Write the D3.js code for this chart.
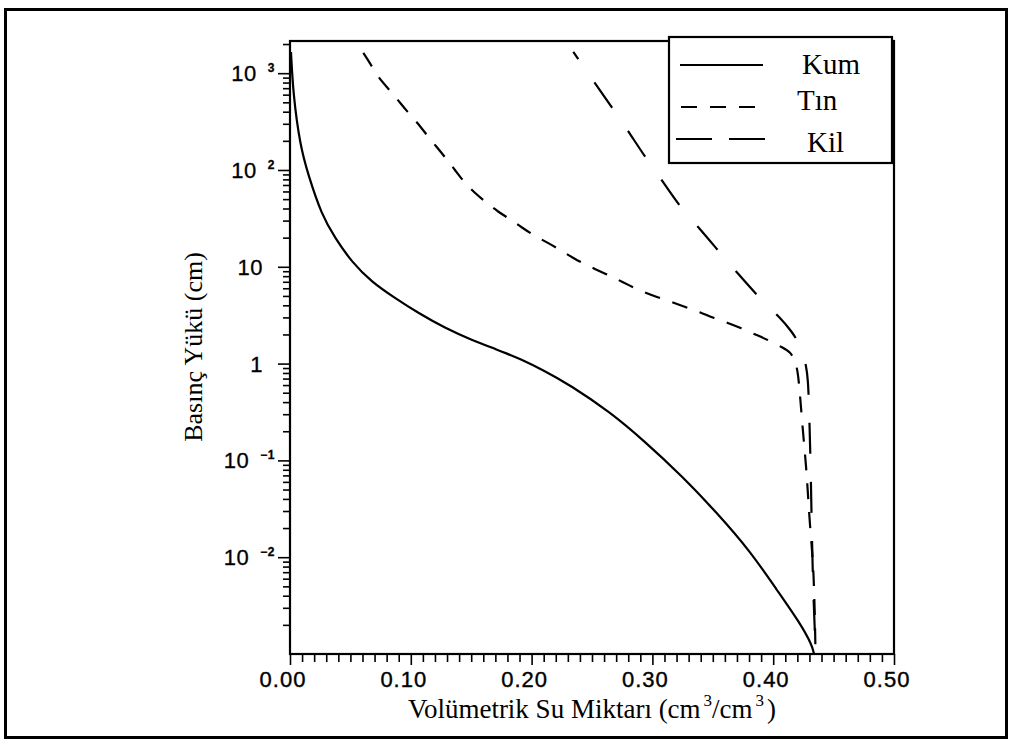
<!DOCTYPE html>
<html><head><meta charset="utf-8">
<script src="https://cdn.jsdelivr.net/npm/d3@7"></script>
<style>body{margin:0;background:#fff} svg{display:block}</style>
</head><body>
<svg id="c" width="1012" height="744"></svg>
<script>
// ---- data ----
const xTicks = [0, 0.1, 0.2, 0.3, 0.4, 0.5];
const xTickLabels = ["0.00", "0.10", "0.20", "0.30", "0.40", "0.50"];
const yTicks = [1000, 100, 10, 1, 0.1, 0.01];
const yTickBase = ["10", "10", "10", "1", "10", "10"];
const yTickExp = ["3", "2", "", "", "−1", "−2"];
const seriesNames = ["Kum", "Tın", "Kil"];
const kumTheta = [0.0008, 0.0027, 0.0083, 0.0151, 0.0262, 0.0373, 0.0511, 0.0676, 0.0869, 0.1062, 0.1283, 0.1504, 0.1724, 0.182, 0.189, 0.2094, 0.2318, 0.2649, 0.2922, 0.3253, 0.3535, 0.3808, 0.4031, 0.4222, 0.4321, 0.4338];
const kumHead  = [1656, 596, 181, 88.8, 34.3, 19.8, 11.2, 6.97, 4.76, 3.33, 2.33, 1.75, 1.38, 1.23, 1.14, 0.86, 0.60, 0.316, 0.163, 0.0675, 0.0286, 0.0116, 0.00458, 0.00209, 0.00124, 0.001];
const tinTheta = [0.0607, 0.0662, 0.0728, 0.0809, 0.0894, 0.0966, 0.1057, 0.1132, 0.1214, 0.1289, 0.1366, 0.144, 0.1531, 0.162, 0.1724, 0.1821, 0.1923, 0.2028, 0.2138, 0.2249, 0.2345, 0.2469, 0.258, 0.2705, 0.28, 0.2925, 0.3036, 0.316, 0.327, 0.3394, 0.3504, 0.3628, 0.3731, 0.3863, 0.396, 0.4084, 0.4139, 0.418, 0.4205, 0.4222, 0.4247, 0.4272, 0.4288, 0.4305, 0.4329, 0.4338, 0.4346, 0.435];
const tinHead  = [1618, 1274, 914, 703, 528, 407, 306, 230, 173, 133, 100, 75, 57.8, 46.7, 36.8, 31.2, 25.2, 20.8, 17.6, 14.6, 12.3, 10.2, 8.83, 7.48, 6.49, 5.49, 4.88, 4.33, 3.84, 3.41, 2.96, 2.63, 2.33, 1.97, 1.75, 1.45, 1.32, 1.09, 0.818, 0.474, 0.192, 0.0895, 0.044, 0.0205, 0.00935, 0.0048, 0.00224, 0.001];
const kilTheta = [0.2345, 0.2517, 0.2663, 0.28, 0.2939, 0.3085, 0.3228, 0.3388, 0.3554, 0.3711, 0.3885, 0.4062, 0.4156, 0.4214, 0.4247, 0.4272, 0.4288, 0.4296, 0.431, 0.4319, 0.433, 0.435, 0.4354];
const kilHead  = [1656, 811, 448, 253, 136, 76.9, 41.5, 25.2, 14.2, 8.43, 4.76, 2.96, 2.12, 1.63, 1.23, 0.97, 0.678, 0.392, 0.0895, 0.0205, 0.0048, 0.00115, 0.001];
const xTitle = "Volümetrik Su Miktarı (cm";
const yTitle = "Basınç Yükü (cm)";

// ---- layout ----
const svg = d3.select("#c");
const L = 290, R = 894, T = 41, B = 654;
const x = d3.scaleLinear().domain([0, 0.5]).range([L, R]);
const y = d3.scaleLog().domain([0.001, 2150]).range([B, T]);

// outer frame
svg.append("rect").attr("x", 5.5).attr("y", 9.5).attr("width", 1001).attr("height", 728)
  .attr("fill", "none").attr("stroke", "#000").attr("stroke-width", 3);

// x axis ticks
const xMinor = d3.range(1, 50).filter(i => i % 10 !== 0).map(i => i / 100);
const gx1 = svg.append("g").attr("transform", `translate(0,${B})`)
  .call(d3.axisBottom(x).tickValues(xMinor).tickSize(8).tickSizeOuter(0).tickFormat(""));
const gx2 = svg.append("g").attr("transform", `translate(0,${B})`)
  .call(d3.axisBottom(x).tickValues(xTicks).tickSize(11).tickSizeOuter(0).tickFormat(""));
// y axis ticks
const yMinor = [];
for (let d = -3; d <= 3; d++) for (let m = 2; m <= 9; m++) { const v = m * Math.pow(10, d); if (v <= 2150) yMinor.push(v); }
const gy1 = svg.append("g").attr("transform", `translate(${L},0)`)
  .call(d3.axisLeft(y).tickValues(yMinor).tickSize(7).tickSizeOuter(0).tickFormat(""));
const gy2 = svg.append("g").attr("transform", `translate(${L},0)`)
  .call(d3.axisLeft(y).tickValues(yTicks).tickSize(12).tickSizeOuter(0).tickFormat(""));
[gx1, gx2, gy1, gy2].forEach(g => {
  g.select(".domain").remove();
  g.selectAll("line").attr("stroke", "#000").attr("stroke-width", 1.6);
});

// x tick labels
svg.append("g").selectAll("text").data(xTicks).join("text")
  .attr("x", d => x(d) - 7).attr("y", 687)
  .attr("text-anchor", "middle")
  .attr("font-family", "Liberation Sans, Arial, sans-serif").attr("font-size", 22)
  .attr("letter-spacing", 1).attr("stroke", "#000").attr("stroke-width", 0.4)
  .text((d, i) => xTickLabels[i]);

// y tick labels
const yl = svg.append("g").selectAll("text").data(yTicks).join("text")
  .attr("x", (d, i) => yTickExp[i] ? 275 : 263)
  .attr("y", d => y(d) + 8)
  .attr("text-anchor", "end")
  .attr("font-family", "Liberation Sans, Arial, sans-serif").attr("font-size", 22)
  .attr("letter-spacing", 0.5).attr("stroke", "#000").attr("stroke-width", 0.3);
yl.append("tspan").text((d, i) => yTickBase[i]);
yl.append("tspan").attr("dx", 11).attr("dy", -9).attr("font-size", 12).attr("font-weight", "bold")
  .text((d, i) => yTickExp[i]);

// clip
svg.append("clipPath").attr("id", "clip").append("rect")
  .attr("x", L).attr("y", T).attr("width", R - L).attr("height", B - T);

const line = d3.line().x(d => x(d[0])).y(d => y(d[1])).curve(d3.curveBasis);
const series = [
  { th: kumTheta, h: kumHead, dash: null },
  { th: tinTheta, h: tinHead, dash: "16,13" },
  { th: kilTheta, h: kilHead, dash: "31,28" }
];
const gl = svg.append("g").attr("clip-path", "url(#clip)");
series.forEach((s, k) => {
  const pts = s.th.map((t, i) => [t, s.h[i]]);
  gl.append("path").datum(pts).attr("d", line)
    .attr("fill", "none").attr("stroke", "#000").attr("stroke-width", 2.2)
    .attr("stroke-dasharray", s.dash)
    .attr("stroke-dashoffset", k === 2 ? 22 : 0);
});

// plot frame
svg.append("rect").attr("x", L).attr("y", T).attr("width", R - L).attr("height", B - T)
  .attr("fill", "none").attr("stroke", "#000").attr("stroke-width", 2.2);

// legend
const lg = svg.append("g");
lg.append("rect").attr("x", 669).attr("y", 37).attr("width", 223).attr("height", 126)
  .attr("fill", "#fff").attr("stroke", "#000").attr("stroke-width", 2.2);
const legY = [65, 107, 139];
const legX1 = [680, 681, 676];
const legX2 = [763, 757, 766];
const legDash = [null, "16,13", "36,17"];
const legTx = [802, 797, 807];
const legTy = [74, 110, 152];
seriesNames.forEach((n, i) => {
  lg.append("line").attr("x1", legX1[i]).attr("x2", legX2[i]).attr("y1", legY[i]).attr("y2", legY[i])
    .attr("stroke", "#000").attr("stroke-width", 2).attr("stroke-dasharray", legDash[i]);
  lg.append("text").attr("x", legTx[i]).attr("y", legTy[i])
    .attr("font-family", "Liberation Serif, Times New Roman, serif").attr("font-size", 29)
    .text(n);
});

// axis titles
const xt = svg.append("text").attr("x", 592).attr("y", 718).attr("text-anchor", "middle")
  .attr("font-family", "Liberation Serif, Times New Roman, serif").attr("font-size", 27);
xt.append("tspan").text(xTitle);
xt.append("tspan").attr("dx", 3).attr("dy", -12).attr("font-size", 17).text("3");
xt.append("tspan").attr("dy", 12).text("/cm");
xt.append("tspan").attr("dx", 3).attr("dy", -12).attr("font-size", 17).text("3");
xt.append("tspan").attr("dx", 3).attr("dy", 12).text(")");

svg.append("text").attr("transform", "translate(202,347) rotate(-90)")
  .attr("text-anchor", "middle")
  .attr("font-family", "Liberation Serif, Times New Roman, serif").attr("font-size", 26)
  .text(yTitle);
</script>
</body></html>
